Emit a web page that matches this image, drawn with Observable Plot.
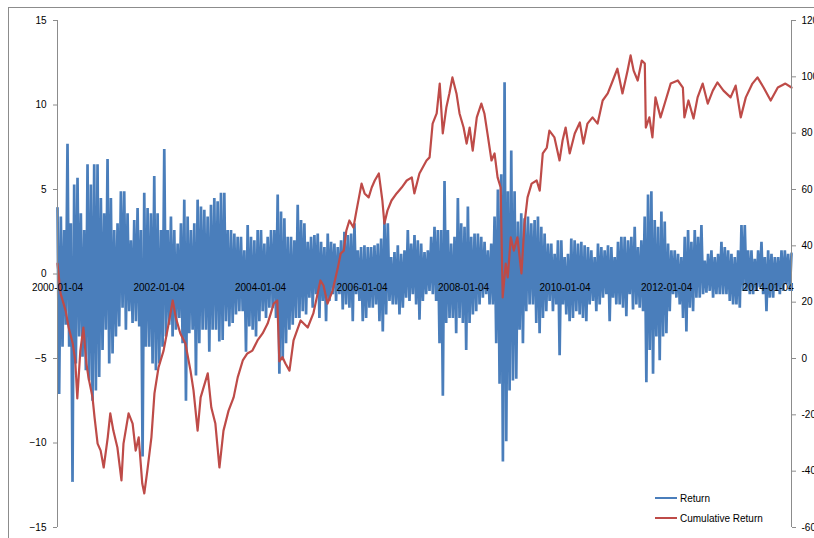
<!DOCTYPE html>
<html>
<head>
<meta charset="utf-8">
<script src="https://cdn.jsdelivr.net/npm/d3@7"></script>
<script src="https://cdn.jsdelivr.net/npm/@observablehq/plot@0.6"></script>
<style>
html,body{margin:0;padding:0;background:#fff;overflow:hidden;width:814px;height:538px}
#wrap{position:relative;width:814px;height:538px;overflow:hidden}
#border{position:absolute;left:8px;top:7px;width:900px;height:600px;border-left:1px solid #8c8c8c;border-top:1px solid #8c8c8c}
#chart{position:absolute;left:0;top:0}
.leg{position:absolute;left:655px;font:10px "Liberation Sans",Arial,sans-serif;color:#000;display:flex;align-items:center;height:12px;white-space:nowrap}
.leg span.sw{display:inline-block;width:22px;height:2px;margin-right:3px}
</style>
</head>
<body>
<div id="wrap">
  <div id="border"></div>
  <div id="chart"></div>
  <div class="leg" style="top:492px"><span class="sw" style="background:#4a7ebb"></span>Return</div>
  <div class="leg" style="top:512px"><span class="sw" style="background:#be4b48"></span>Cumulative Return</div>
</div>
<script>
// ---- data ----
// Daily return (%) samples, alternating swings, evenly spaced in time from 2000-01-04 to mid-2014
const returns = [
3.9,-7.1,3.4,-4.3,2.6,-3.0,7.7,-4.3,3.0,-12.3,
5.3,-5.3,5.7,-3.7,3.6,-4.9,2.6,-5.7,6.5,-6.3,
5.3,-7.5,6.5,-6.9,6.5,-6.1,4.5,-4.5,3.6,-3.3,
6.8,-5.3,4.5,-4.7,2.6,-3.7,3.0,-3.1,4.9,-2.0,
4.9,-3.3,3.6,-2.2,2.0,-2.9,3.2,-2.8,3.9,-3.1,
2.6,-10.8,4.8,-4.3,3.9,-4.3,3.6,-5.3,5.8,-5.7,
3.6,-5.3,2.6,-4.3,7.4,-3.7,2.6,-3.0,3.4,-3.7,
2.6,-3.3,1.8,-2.6,
3.0,-4.1,4.4,-7.5,3.4,-3.5,2.6,-3.3,3.0,-6.0,
4.4,-4.1,4.0,-3.3,3.8,-3.3,3.4,-4.6,4.1,-3.3,
4.5,-3.3,4.3,-4.0,4.8,-3.9,4.8,-2.8,2.6,-3.1,
2.6,-2.9,2.4,-2.4,2.2,-2.2,2.2,-2.2,1.4,-4.6,
2.9,-3.1,2.2,-3.3,2.0,-3.7,2.6,-2.8,2.6,-2.2,
1.8,-2.6,2.2,-2.0,2.6,-2.0,2.6,-2.6,4.7,-5.9,
3.7,-5.1,3.3,-4.1,2.2,-3.3,2.2,-3.0,2.0,-2.6,
4.1,-2.6,3.2,-2.2,
3.0,-2.4,1.9,-1.4,2.2,-2.0,2.3,-1.2,2.4,-2.6,
1.9,-1.6,1.6,-2.8,2.4,-1.6,1.9,-1.2,1.8,-1.6,
1.6,-1.2,2.0,-2.1,2.5,-1.8,2.3,-2.0,2.4,-2.8,
3.0,-1.2,1.4,-1.6,1.6,-2.8,1.7,-2.6,1.6,-2.0,
1.6,-2.0,1.7,-1.8,1.8,-2.8,2.1,-3.4,3.2,-2.4,
3.0,-1.6,1.0,-1.8,1.3,-1.8,1.7,-2.4,1.2,-2.0,
1.4,-1.4,2.6,-1.6,1.8,-1.2,2.3,-1.8,2.0,-2.7,
1.8,-1.6,1.3,-1.2,
1.4,-1.0,2.2,-1.2,2.8,-1.6,2.6,-4.1,2.6,-7.2,
5.5,-2.9,2.6,-2.6,1.8,-2.6,2.2,-3.5,4.5,-2.6,
3.0,-2.9,2.8,-4.5,4.0,-2.9,2.2,-2.4,2.4,-2.2,
2.4,-1.8,2.2,-1.4,1.9,-1.2,1.4,-1.8,1.8,-1.8,
3.4,-4.1,5.0,-6.5,5.9,-11.1,11.35,-9.9,4.9,-6.9,
7.3,-6.3,4.9,-6.2,3.1,-3.3,3.6,-4.1,3.3,-2.2,
3.4,-1.8,3.0,-1.8,3.2,-2.9,3.4,-3.5,2.8,-2.6,
2.4,-2.2,1.8,-1.6,
1.8,-2.2,1.2,-1.8,2.0,-4.8,2.0,-1.8,1.0,-2.4,
1.2,-2.8,2.1,-2.6,2.0,-2.2,1.8,-2.4,1.9,-2.6,
1.7,-2.8,1.6,-1.8,1.4,-1.6,1.0,-2.2,1.8,-1.8,
1.6,-1.4,1.4,-1.2,1.7,-2.8,1.6,-1.4,1.0,-1.8,
1.9,-1.8,2.2,-2.0,2.2,-2.5,2.0,-1.2,2.2,-2.1,
2.8,-1.8,1.6,-2.0,2.0,-2.2,3.4,-6.4,4.7,-4.5,
4.9,-5.9,3.2,-3.7,2.8,-5.1,3.7,-3.7,3.1,-3.5,
1.8,-2.2,1.4,
-1.2,1.4,-1.4,1.2,-1.8,1.0,-2.6,2.2,-3.4,2.6,
-2.0,1.9,-2.2,2.6,-1.4,2.2,-1.4,2.9,-1.2,0.8,
-1.1,1.2,-1.0,1.4,-1.4,1.0,-1.2,1.2,-1.2,1.9,
-1.2,1.6,-1.2,1.4,-1.6,1.2,-1.8,1.0,-1.8,1.4,
-2.0,2.9,-1.0,2.9,-1.0,1.4,-1.2,1.4,-1.2,0.9,
-1.0,1.4,-0.8,1.9,-1.2,1.0,-2.2,1.4,-1.4,1.2,
-1.4,1.0,-1.0,1.0,-1.2,1.4,-1.0,1.4,-0.6,1.2,
-1.0,1.2
];

// Cumulative return (%) : [years since 2000-01-04, value]
const cumulative = [
[0.00,33.7],[0.06,23.1],[0.16,17.0],[0.22,11.0],[0.30,5.3],[0.35,-0.7],[0.39,-14.2],[0.45,2.8],
[0.51,11.0],[0.57,-1.8],[0.61,-6.7],[0.69,-13.8],[0.73,-20.9],[0.79,-30.2],[0.85,-32.7],[0.91,-38.7],
[0.99,-28.0],[1.04,-19.5],[1.10,-25.6],[1.18,-31.6],[1.26,-43.3],[1.30,-30.2],[1.40,-19.5],[1.48,-23.1],
[1.54,-32.7],[1.60,-28.0],[1.67,-44.4],[1.71,-47.9],[1.77,-39.8],[1.85,-28.0],[1.91,-12.4],[1.99,-3.2],
[2.09,2.8],[2.19,12.4],[2.27,20.6],[2.33,14.6],[2.42,8.9],[2.52,5.3],[2.62,-4.3],[2.68,-11.4],
[2.76,-25.6],[2.82,-13.8],[2.90,-8.9],[2.96,-5.3],[3.03,-17.4],[3.11,-23.1],[3.19,-38.7],[3.27,-25.6],
[3.37,-18.5],[3.47,-13.8],[3.55,-6.7],[3.65,-0.7],[3.74,1.8],[3.84,2.8],[3.94,6.4],[4.04,8.9],
[4.14,12.4],[4.26,19.5],[4.33,20.6],[4.37,-1.0],[4.43,0.5],[4.49,-1.8],[4.57,-4.3],[4.65,6.4],
[4.79,13.5],[4.93,11.0],[5.04,16.0],[5.18,27.7],[5.24,25.9],[5.32,19.5],[5.42,24.1],[5.52,32.0],
[5.58,37.3],[5.64,38.3],[5.69,45.4],[5.75,49.0],[5.83,46.5],[5.89,52.5],[5.99,62.1],[6.05,58.6],
[6.13,57.2],[6.19,60.7],[6.25,63.2],[6.33,65.7],[6.40,56.1],[6.44,47.9],[6.50,52.5],[6.58,56.1],
[6.68,58.6],[6.78,60.7],[6.88,63.2],[6.98,64.3],[7.03,58.6],[7.13,65.7],[7.27,70.3],[7.33,71.4],
[7.39,83.4],[7.47,87.0],[7.53,97.6],[7.59,79.9],[7.66,89.1],[7.72,94.1],[7.78,99.8],[7.86,94.1],
[7.92,87.0],[8.00,82.0],[8.06,76.3],[8.12,82.0],[8.18,73.8],[8.26,85.6],[8.35,90.5],[8.41,87.0],
[8.47,79.9],[8.55,70.3],[8.61,72.8],[8.67,64.3],[8.73,60.7],[8.77,21.7],[8.83,33.7],[8.87,28.8],
[8.93,43.0],[8.99,38.3],[9.06,43.0],[9.14,30.2],[9.20,47.9],[9.26,57.2],[9.34,62.1],[9.44,63.2],
[9.50,59.6],[9.56,72.8],[9.64,74.9],[9.69,80.9],[9.79,78.5],[9.89,70.3],[9.95,77.4],[10.01,82.0],
[10.09,72.8],[10.19,79.9],[10.29,83.8],[10.36,76.3],[10.44,83.4],[10.54,85.6],[10.64,83.4],[10.74,91.6],
[10.84,94.1],[10.94,98.7],[11.03,102.9],[11.13,94.1],[11.23,102.2],[11.29,107.6],[11.35,102.2],[11.43,98.7],
[11.51,105.8],[11.57,104.7],[11.59,82.0],[11.66,85.6],[11.72,78.5],[11.78,92.7],[11.88,85.6],[11.98,91.6],
[12.08,97.6],[12.22,98.7],[12.32,96.2],[12.35,85.6],[12.43,91.6],[12.53,85.2],[12.61,92.7],[12.71,97.6],
[12.81,90.5],[12.91,95.1],[13.00,98.0],[13.12,95.1],[13.26,92.7],[13.36,96.9],[13.46,85.6],[13.56,92.7],
[13.69,97.6],[13.79,99.8],[13.91,96.2],[14.05,91.6],[14.19,96.2],[14.34,97.6],[14.46,96.2]
];

const startYear = 2000;
const endYear = 2014.46;
const xTickYears = [0, 2, 4, 6, 8, 10, 12, 14];
const xTickLabels = ["2000-01-04","2002-01-04","2004-01-04","2006-01-04","2008-01-04","2010-01-04","2012-01-04","2014-01-04"];
const leftTicks = [-15, -10, -5, 0, 5, 10, 15];
const rightTicks = [-60, -40, -20, 0, 20, 40, 60, 80, 100, 120];

// ---- build ----
const blue = "#4a7ebb", red = "#be4b48", axisGray = "#8c8c8c";
const step = (endYear - startYear) / (returns.length - 1);
const retData = returns.map((v, i) => ({t: startYear + i * step, v}));
// right axis (-60..120) mapped onto left axis (-15..15)
const toLeft = c => c / 6 - 5;
const cumData = cumulative.map(([yr, c]) => ({t: startYear + yr, c}));
const tickData = xTickYears.map((yr, i) => ({t: startYear + yr, label: xTickLabels[i]}));

const chart = Plot.plot({
  width: 814, height: 538,
  marginLeft: 57, marginRight: 23, marginTop: 20, marginBottom: 11,
  x: {domain: [startYear, endYear], axis: null},
  y: {domain: [-15, 15], axis: null},
  style: {fontFamily: "'Liberation Sans', Arial, sans-serif", fontSize: "10px", color: "#000", background: "transparent", overflow: "visible"},
  marks: [
    Plot.line(retData, {x: "t", y: "v", stroke: blue, strokeWidth: 2.7, strokeLinejoin: "miter", strokeMiterlimit: 1.2}),
    Plot.line(cumData, {x: "t", y: d => toLeft(d.c), stroke: red, strokeWidth: 2.2}),
    Plot.text(tickData, {x: "t", y: d => 0, text: "label", dy: 13.5, fill: "#000", fontSize: 10}),
    Plot.ruleX([startYear, endYear], {stroke: axisGray, strokeWidth: 1}),
    Plot.axisY({anchor: "left", ticks: leftTicks, tickSize: 4, tickPadding: 7, stroke: axisGray, fill: "#000", label: null}),
    Plot.axisY({anchor: "right", ticks: rightTicks.map(toLeft), tickFormat: d => String(Math.round((d + 5) * 6)), tickSize: 4, tickPadding: 6, stroke: axisGray, fill: "#000", label: null})
  ]
});
document.getElementById("chart").appendChild(chart);
</script>
</body>
</html>
